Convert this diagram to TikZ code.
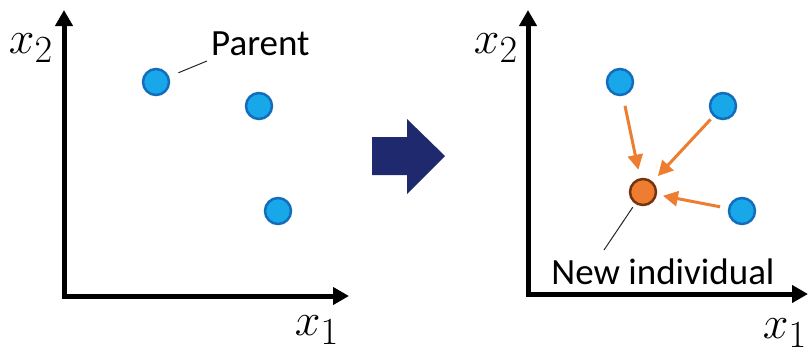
\documentclass[tikz,border=0pt]{standalone}
\usepackage{fontspec}
\setmainfont{Carlito}
\usetikzlibrary{arrows.meta}
\definecolor{ptFill}{RGB}{24,168,234}
\definecolor{ptLine}{RGB}{20,108,188}
\definecolor{kidFill}{RGB}{237,125,49}
\definecolor{kidLine}{RGB}{118,52,14}
\definecolor{navy}{RGB}{31,42,110}

\begin{document}
\begin{tikzpicture}[x=1pt,y=-1pt]
	\useasboundingbox (0,0) rectangle (808,356);
	\begin{scope}[
		axis/.style={line width=5pt,line join=miter,{Triangle[length=16pt,width=17pt]}-{Triangle[length=16pt,width=17pt]}},
		parent/.style={circle,draw=ptLine,fill=ptFill,line width=2.5pt,minimum size=26pt,inner sep=0pt},
		child/.style={circle,draw=kidLine,fill=kidFill,line width=2.5pt,minimum size=26pt,inner sep=0pt},
		axlabel/.style={inner sep=0pt,font=\Huge,scale=1.85},
		tag/.style={inner sep=0pt,font=\fontsize{37}{42}\selectfont},
		leader/.style={draw=black!85,line width=1pt},
		mix/.style={draw=kidFill,line width=3pt,-{Triangle[length=15pt,width=15pt]}}]
		% left panel: parents
		\coordinate (oL) at (64,296);
		\coordinate (yL) at (64,10);
		\coordinate (xL) at (349,296);
		\draw [axis] (yL) -- (oL) -- (xL);
		\node [axlabel] (x2L) at (31,48) {$x_2$};
		\node [axlabel] (x1L) at (317,330) {$x_1$};
		\node [parent] (pL1) at (156,82) {};
		\node [parent] (pL2) at (259,106) {};
		\node [parent] (pL3) at (278,211) {};
		\coordinate (parentFoot) at (207,61);
		\node [tag,anchor=south west] (parentTxt) at (211,56) {Parent};
		\path [leader,shorten <=10pt] (pL1) -- (parentFoot);

		% big arrow
		\fill [navy] (372,137) -- (407,137) -- (407,119) -- (445,156)
			-- (407,194) -- (407,175) -- (372,175) -- cycle;

		% right panel: recombination
		\coordinate (oR) at (528,294);
		\coordinate (yR) at (528,10);
		\coordinate (xR) at (808,294);
		\draw [axis] (yR) -- (oR) -- (xR);
		\node [axlabel] (x2R) at (496,48) {$x_2$};
		\node [axlabel] (x1R) at (785,333) {$x_1$};
		\node [parent] (pR1) at (620,82) {};
		\node [parent] (pR2) at (723,106) {};
		\node [parent] (pR3) at (742,211) {};
		\node [child] (kid) at (643,192) {};
		\path
		(pR1) edge [mix,shorten <=10pt,shorten >=8.5pt] (kid)
		(pR2) edge [mix,shorten <=4pt,shorten >=7.5pt] (kid)
		(pR3) edge [mix,shorten <=8pt,shorten >=6pt] (kid)
		;
		\coordinate (kidFoot) at (604,250);
		\node [tag] (kidTxt) at (663,272) {New individual};
		\path [leader,shorten <=4pt] (kid) -- (kidFoot);
	\end{scope}
\end{tikzpicture}
\end{document}
